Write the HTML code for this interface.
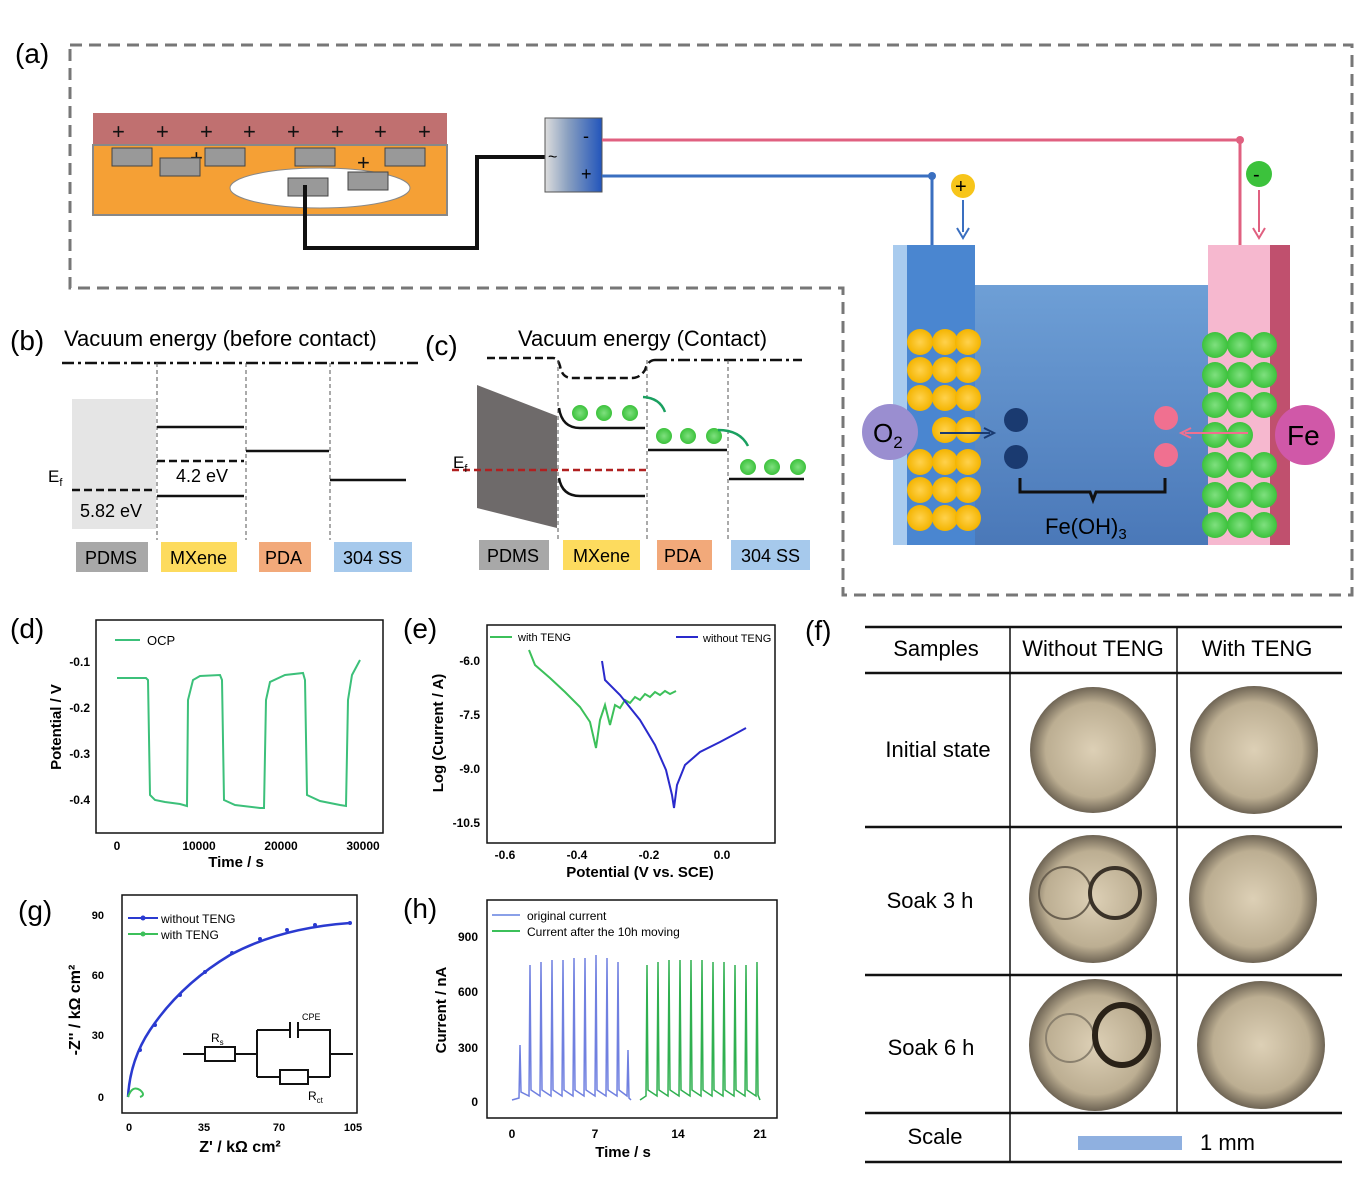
<!DOCTYPE html>
<html><head><meta charset="utf-8"><style>body{margin:0;background:#fff}svg{display:block}text{font-family:"Liberation Sans",sans-serif}</style></head><body>
<svg width="1367" height="1182" viewBox="0 0 1367 1182" xmlns="http://www.w3.org/2000/svg">
<defs>
<linearGradient id="dev" x1="0" x2="1"><stop offset="0" stop-color="#ddd"/><stop offset="0.4" stop-color="#8aa0c0"/><stop offset="1" stop-color="#2255bb"/></linearGradient>
<linearGradient id="wat" x1="0" y1="0" x2="0" y2="1"><stop offset="0" stop-color="#6e9fd6"/><stop offset="1" stop-color="#4a78b8"/></linearGradient>
<radialGradient id="gc"><stop offset="0" stop-color="#7fe07f"/><stop offset="1" stop-color="#3cc23c"/></radialGradient>
<radialGradient id="yc"><stop offset="0" stop-color="#ffd24d"/><stop offset="1" stop-color="#f4b400"/></radialGradient>
<radialGradient id="disk"><stop offset="0" stop-color="#ddd0b6"/><stop offset="0.75" stop-color="#bcae92"/><stop offset="1" stop-color="#6e6454"/></radialGradient>
</defs>
<!-- (a) -->
<text x="15" y="63" font-size="28">(a)</text>
<path d="M70,45 H1352 V595 H843 V288 H70 Z" fill="none" stroke="#777" stroke-width="3" stroke-dasharray="12,7"/>
<rect x="93" y="113" width="354" height="32" fill="#c07070"/>
<rect x="93" y="145" width="354" height="70" fill="#f5a035" stroke="#888" stroke-width="2"/>
<g font-size="22" fill="#111"><text x="112" y="139">+</text><text x="156" y="139">+</text><text x="200" y="139">+</text><text x="243" y="139">+</text><text x="287" y="139">+</text><text x="331" y="139">+</text><text x="374" y="139">+</text><text x="418" y="139">+</text><text x="190" y="165">+</text><text x="357" y="170">+</text></g>
<ellipse cx="320" cy="188" rx="90" ry="20" fill="#fff" stroke="#888"/>
<g fill="#999" stroke="#444"><rect x="112" y="148" width="40" height="18"/><rect x="160" y="158" width="40" height="18"/><rect x="205" y="148" width="40" height="18"/><rect x="295" y="148" width="40" height="18"/><rect x="385" y="148" width="40" height="18"/><rect x="288" y="178" width="40" height="18"/><rect x="348" y="172" width="40" height="18"/></g>
<path d="M305,185 V248 H477 V157 H545" fill="none" stroke="#111" stroke-width="4"/>
<rect x="545" y="118" width="57" height="74" fill="url(#dev)" stroke="#555"/>
<text x="548" y="162" font-size="16">~</text><text x="583" y="142" font-size="18">-</text><text x="581" y="180" font-size="18">+</text>
<path d="M602,140 H1240 V248" fill="none" stroke="#e06080" stroke-width="3"/>
<path d="M602,176 H932 V250" fill="none" stroke="#3a6fc0" stroke-width="3"/>
<circle cx="1240" cy="140" r="4" fill="#e06080"/><circle cx="932" cy="176" r="4" fill="#3a6fc0"/>
<circle cx="963" cy="186" r="12" fill="#f7c51a"/><text x="955" y="193" font-size="20">+</text>
<path d="M963,200 V232" stroke="#3a6fc0" stroke-width="2"/><path d="M957,228 L963,238 L969,228" fill="none" stroke="#3a6fc0" stroke-width="2"/>
<circle cx="1259" cy="174" r="13" fill="#3cc23c"/><text x="1253" y="181" font-size="20">-</text>
<path d="M1259,190 V232" stroke="#e06080" stroke-width="2"/><path d="M1253,228 L1259,238 L1265,228" fill="none" stroke="#e06080" stroke-width="2"/>
<rect x="975" y="285" width="235" height="260" fill="url(#wat)"/>
<rect x="893" y="245" width="82" height="300" fill="#4a86d0"/><rect x="893" y="245" width="14" height="300" fill="#a9cbee"/>
<rect x="1208" y="245" width="82" height="300" fill="#f6b8cf"/><rect x="1270" y="245" width="20" height="300" fill="#c0506e"/>
<g fill="url(#yc)">
<circle cx="920" cy="342" r="13"/><circle cx="945" cy="342" r="13"/><circle cx="968" cy="342" r="13"/>
<circle cx="920" cy="370" r="13"/><circle cx="945" cy="370" r="13"/><circle cx="968" cy="370" r="13"/>
<circle cx="920" cy="398" r="13"/><circle cx="945" cy="398" r="13"/><circle cx="968" cy="398" r="13"/>
<circle cx="920" cy="462" r="13"/><circle cx="945" cy="462" r="13"/><circle cx="968" cy="462" r="13"/>
<circle cx="920" cy="490" r="13"/><circle cx="945" cy="490" r="13"/><circle cx="968" cy="490" r="13"/>
<circle cx="920" cy="518" r="13"/><circle cx="945" cy="518" r="13"/><circle cx="968" cy="518" r="13"/>
<circle cx="945" cy="430" r="13"/><circle cx="968" cy="430" r="13"/></g>
<g fill="url(#gc)">
<circle cx="1215" cy="345" r="13"/><circle cx="1240" cy="345" r="13"/><circle cx="1264" cy="345" r="13"/>
<circle cx="1215" cy="375" r="13"/><circle cx="1240" cy="375" r="13"/><circle cx="1264" cy="375" r="13"/>
<circle cx="1215" cy="405" r="13"/><circle cx="1240" cy="405" r="13"/><circle cx="1264" cy="405" r="13"/>
<circle cx="1215" cy="465" r="13"/><circle cx="1240" cy="465" r="13"/><circle cx="1264" cy="465" r="13"/>
<circle cx="1215" cy="495" r="13"/><circle cx="1240" cy="495" r="13"/><circle cx="1264" cy="495" r="13"/>
<circle cx="1215" cy="525" r="13"/><circle cx="1240" cy="525" r="13"/><circle cx="1264" cy="525" r="13"/>
<circle cx="1215" cy="435" r="13"/><circle cx="1240" cy="435" r="13"/></g>
<circle cx="890" cy="432" r="28" fill="#9a8ed0"/><text x="873" y="442" font-size="26">O<tspan font-size="17" dy="6">2</tspan></text>
<circle cx="1305" cy="435" r="30" fill="#d058a8"/><text x="1287" y="445" font-size="28">Fe</text>
<path d="M940,433 H990" stroke="#1a3a70" stroke-width="2"/><path d="M984,428 L994,433 L984,438" fill="none" stroke="#1a3a70" stroke-width="2"/>
<circle cx="1016" cy="420" r="12" fill="#1a3a70"/><circle cx="1016" cy="457" r="12" fill="#1a3a70"/>
<circle cx="1166" cy="418" r="12" fill="#f07090"/><circle cx="1166" cy="455" r="12" fill="#f07090"/>
<path d="M1248,433 H1185" stroke="#f07090" stroke-width="2"/><path d="M1191,428 L1181,433 L1191,438" fill="none" stroke="#f07090" stroke-width="2"/>
<path d="M1020,478 V492 H1090 L1093,500 L1096,492 H1165 V478" fill="none" stroke="#111" stroke-width="3"/>
<text x="1045" y="534" font-size="22">Fe(OH)<tspan font-size="15" dy="5">3</tspan></text>
<!-- (b) -->
<text x="10" y="350" font-size="28">(b)</text>
<text x="64" y="346" font-size="22">Vacuum energy (before contact)</text>
<path d="M62,363 H418" stroke="#111" stroke-width="2.5" stroke-dasharray="12,4,3,4"/>
<g stroke="#555" stroke-dasharray="4,3"><path d="M157,363 V540"/><path d="M246,363 V540"/><path d="M330,363 V540"/></g>
<rect x="72" y="399" width="84" height="130" fill="#e5e5e5"/>
<path d="M72,490 H156" stroke="#111" stroke-width="2.5" stroke-dasharray="8,4"/>
<text x="48" y="482" font-size="17">E<tspan font-size="11" dy="4">f</tspan></text>
<text x="80" y="517" font-size="18">5.82 eV</text>
<path d="M157,427 H244" stroke="#111" stroke-width="2.5"/>
<path d="M157,461 H244" stroke="#111" stroke-width="2.5" stroke-dasharray="8,4"/>
<text x="176" y="482" font-size="18">4.2 eV</text>
<path d="M157,496 H244" stroke="#111" stroke-width="2.5"/>
<path d="M246,451 H329" stroke="#111" stroke-width="2.5"/>
<path d="M330,480 H406" stroke="#111" stroke-width="2.5"/>
<rect x="76" y="542" width="72" height="30" fill="#a8a8a8"/><text x="85" y="564" font-size="18">PDMS</text>
<rect x="161" y="542" width="76" height="30" fill="#fddb5e"/><text x="170" y="564" font-size="18">MXene</text>
<rect x="259" y="542" width="52" height="30" fill="#f2a97a"/><text x="265" y="564" font-size="18">PDA</text>
<rect x="334" y="542" width="78" height="30" fill="#a6c9ec"/><text x="343" y="564" font-size="18">304 SS</text>
<!-- (c) -->
<text x="425" y="355" font-size="28">(c)</text>
<text x="518" y="346" font-size="22">Vacuum energy (Contact)</text>
<path d="M487,358 H553 Q558,358 560,366 Q562,378 572,378 H632 Q640,378 645,370 Q648,360 655,360" fill="none" stroke="#111" stroke-width="2.5" stroke-dasharray="8,4"/>
<path d="M655,360 H802" stroke="#111" stroke-width="2.5" stroke-dasharray="12,4,3,4"/>
<g stroke="#555" stroke-dasharray="4,3"><path d="M558,360 V540"/><path d="M647,360 V540"/><path d="M728,360 V540"/></g>
<path d="M477,385 L557,416 V528 L477,508 Z" fill="#6e6a6a"/>
<path d="M452,470 H648" stroke="#b02020" stroke-width="2.5" stroke-dasharray="7,4"/>
<text x="453" y="468" font-size="17">E<tspan font-size="11" dy="4">f</tspan></text>
<path d="M559,408 Q562,428 580,428 H645" fill="none" stroke="#111" stroke-width="2.5"/>
<path d="M559,478 Q562,496 580,496 H645" fill="none" stroke="#111" stroke-width="2.5"/>
<path d="M648,450 H727" stroke="#111" stroke-width="2.5"/>
<path d="M729,479 H804" stroke="#111" stroke-width="2.5"/>
<g fill="url(#gc)"><circle cx="580" cy="413" r="8"/><circle cx="604" cy="413" r="8"/><circle cx="630" cy="413" r="8"/><circle cx="664" cy="436" r="8"/><circle cx="688" cy="436" r="8"/><circle cx="714" cy="436" r="8"/><circle cx="748" cy="467" r="8"/><circle cx="772" cy="467" r="8"/><circle cx="798" cy="467" r="8"/></g>
<path d="M643,397 Q660,398 665,412 M718,430 Q740,430 748,446" fill="none" stroke="#1aa060" stroke-width="2.5"/>
<rect x="479" y="540" width="70" height="30" fill="#a8a8a8"/><text x="487" y="562" font-size="18">PDMS</text>
<rect x="563" y="540" width="77" height="30" fill="#fddb5e"/><text x="573" y="562" font-size="18">MXene</text>
<rect x="657" y="540" width="55" height="30" fill="#f2a97a"/><text x="664" y="562" font-size="18">PDA</text>
<rect x="731" y="540" width="79" height="30" fill="#a6c9ec"/><text x="741" y="562" font-size="18">304 SS</text>
<!-- (d) -->
<text x="10" y="638" font-size="28">(d)</text>
<rect x="96" y="620" width="287" height="213" fill="none" stroke="#111" stroke-width="1.5"/>
<path d="M115,640 H140" stroke="#3cc07a" stroke-width="2"/><text x="147" y="645" font-size="13">OCP</text>
<g font-size="12" font-weight="bold" text-anchor="end"><text x="90" y="666">-0.1</text><text x="90" y="712">-0.2</text><text x="90" y="758">-0.3</text><text x="90" y="804">-0.4</text></g>
<g font-size="12" font-weight="bold" text-anchor="middle"><text x="117" y="850">0</text><text x="199" y="850">10000</text><text x="281" y="850">20000</text><text x="363" y="850">30000</text></g>
<text x="236" y="867" font-size="15" font-weight="bold" text-anchor="middle">Time / s</text>
<text transform="translate(61,727) rotate(-90)" font-size="15" font-weight="bold" text-anchor="middle">Potential / V</text>
<path d="M117,678 H146 L148,680 L150,795 L155,800 L165,802 L180,804 L187,806 L188,700 L193,680 L200,676 L220,675 L222,680 L224,800 L235,805 L260,808 L264,808 L266,700 L270,682 L285,675 L303,673 L305,680 L307,795 L320,801 L340,805 L346,806 L348,700 L352,675 L360,660" fill="none" stroke="#3cc07a" stroke-width="2"/>
<!-- (e) -->
<text x="403" y="638" font-size="28">(e)</text>
<rect x="487" y="625" width="288" height="218" fill="none" stroke="#111" stroke-width="1.5"/>
<path d="M490,637 H512" stroke="#3cc05a" stroke-width="2"/><text x="518" y="641" font-size="11">with TENG</text>
<path d="M676,637 H698" stroke="#2a2acc" stroke-width="2"/><text x="703" y="642" font-size="11">without TENG</text>
<g font-size="12" font-weight="bold" text-anchor="end"><text x="480" y="665">-6.0</text><text x="480" y="719">-7.5</text><text x="480" y="773">-9.0</text><text x="480" y="827">-10.5</text></g>
<g font-size="12" font-weight="bold" text-anchor="middle"><text x="505" y="859">-0.6</text><text x="577" y="859">-0.4</text><text x="649" y="859">-0.2</text><text x="722" y="859">0.0</text></g>
<text x="640" y="877" font-size="15" font-weight="bold" text-anchor="middle">Potential (V vs. SCE)</text>
<text transform="translate(443,733) rotate(-90)" font-size="15" font-weight="bold" text-anchor="middle">Log (Current / A)</text>
<path d="M529,650 L535,665 L550,678 L565,692 L580,707 L590,722 L596,748 L600,720 L605,705 L610,725 L615,705 L620,708 L625,700 L630,703 L635,697 L640,700 L645,694 L650,697 L655,692 L660,695 L665,691 L670,694 L676,691" fill="none" stroke="#3cc05a" stroke-width="2"/>
<path d="M602,661 L605,680 L620,695 L640,720 L655,745 L666,770 L672,795 L674,808 L677,785 L685,765 L700,752 L720,742 L735,734 L746,728" fill="none" stroke="#2a2acc" stroke-width="2"/>
<!-- (g) -->
<text x="18" y="920" font-size="28">(g)</text>
<rect x="122" y="895" width="235" height="218" fill="none" stroke="#111" stroke-width="1.5"/>
<path d="M128,918 H158" stroke="#2a3ad0" stroke-width="2"/><circle cx="143" cy="918" r="2.5" fill="#2a3ad0"/><text x="161" y="923" font-size="12">without TENG</text>
<path d="M128,934 H158" stroke="#3cc05a" stroke-width="2"/><circle cx="143" cy="934" r="2.5" fill="#3cc05a"/><text x="161" y="939" font-size="12">with TENG</text>
<g font-size="11" font-family="Liberation Serif" font-weight="bold" text-anchor="end"><text x="104" y="919">90</text><text x="104" y="979">60</text><text x="104" y="1039">30</text><text x="104" y="1101">0</text></g>
<g font-size="11" font-weight="bold" text-anchor="middle" font-family="Liberation Serif"><text x="129" y="1131">0</text><text x="204" y="1131">35</text><text x="279" y="1131">70</text><text x="353" y="1131">105</text></g>
<text x="240" y="1152" font-size="16" font-weight="bold" text-anchor="middle" font-family="Liberation Serif">Z' /  kΩ cm²</text>
<text transform="translate(80,1010) rotate(-90)" font-size="16" font-weight="bold" text-anchor="middle" font-family="Liberation Serif">-Z'' / kΩ cm²</text>
<path d="M128,1097 Q130,1060 150,1030 Q180,985 230,955 Q280,928 350,923" fill="none" stroke="#2a3ad0" stroke-width="2.5"/>
<g fill="#2a3ad0"><circle cx="140" cy="1050" r="2"/><circle cx="155" cy="1025" r="2"/><circle cx="180" cy="995" r="2"/><circle cx="205" cy="972" r="2"/><circle cx="232" cy="953" r="2"/><circle cx="260" cy="939" r="2"/><circle cx="287" cy="930" r="2"/><circle cx="315" cy="925" r="2"/><circle cx="350" cy="923" r="2"/></g>
<path d="M128,1097 Q132,1085 140,1090 Q146,1095 140,1097" fill="none" stroke="#3cc05a" stroke-width="2"/>
<path d="M183,1054 H205 M235,1054 H257 M257,1030 V1077 M257,1030 H290 M298,1030 H330 V1077 M257,1077 H280 M308,1077 H330 M330,1054 H353" fill="none" stroke="#111" stroke-width="2"/>
<rect x="205" y="1047" width="30" height="14" fill="#fff" stroke="#111" stroke-width="2"/>
<rect x="280" y="1070" width="28" height="14" fill="#fff" stroke="#111" stroke-width="2"/>
<path d="M290,1022 V1038 M298,1022 V1038" stroke="#111" stroke-width="2"/>
<text x="211" y="1042" font-size="12" font-family="Liberation Serif">R<tspan font-size="8" dy="3">s</tspan></text>
<text x="302" y="1020" font-size="9">CPE</text>
<text x="308" y="1100" font-size="12" font-family="Liberation Serif">R<tspan font-size="8" dy="3">ct</tspan></text>
<!-- (h) -->
<text x="403" y="918" font-size="28">(h)</text>
<rect x="487" y="900" width="290" height="218" fill="none" stroke="#111" stroke-width="1.5"/>
<path d="M492,915 H520" stroke="#8aa0e8" stroke-width="2"/><text x="527" y="920" font-size="12">original current</text>
<path d="M492,931 H520" stroke="#3cc05a" stroke-width="2"/><text x="527" y="936" font-size="12">Current after the 10h moving</text>
<g font-size="12" font-weight="bold" text-anchor="end"><text x="478" y="941">900</text><text x="478" y="996">600</text><text x="478" y="1052">300</text><text x="478" y="1106">0</text></g>
<g font-size="12" font-weight="bold" text-anchor="middle"><text x="512" y="1138">0</text><text x="595" y="1138">7</text><text x="678" y="1138">14</text><text x="760" y="1138">21</text></g>
<text x="623" y="1157" font-size="15" font-weight="bold" text-anchor="middle">Time / s</text>
<text transform="translate(446,1010) rotate(-90)" font-size="15" font-weight="bold" text-anchor="middle">Current / nA</text>
<path d="M512,1100 L519,1098 L520,1045 L521,1092 L529,1096 L530,965 L531,1090 L540,1096 L541,962 L542,1090 L551,1096 L552,960 L553,1090 L562,1096 L563,960 L564,1090 L573,1096 L574,958 L575,1090 L584,1096 L585,958 L586,1090 L595,1096 L596,955 L597,1090 L606,1096 L607,958 L608,1090 L617,1096 L618,962 L619,1090 L627,1096 L628,1050 L629,1098 L631,1100" fill="none" stroke="#7080e0" stroke-width="1.5"/>
<path d="M640,1100 L646,1096 L647,965 L648,1090 L657,1096 L658,962 L659,1090 L668,1096 L669,960 L670,1090 L679,1096 L680,960 L681,1090 L690,1096 L691,960 L692,1090 L701,1096 L702,960 L703,1090 L712,1096 L713,962 L714,1090 L723,1096 L724,962 L725,1090 L734,1096 L735,965 L736,1090 L745,1096 L746,965 L747,1090 L756,1096 L757,962 L758,1095 L760,1100" fill="none" stroke="#30b050" stroke-width="1.5"/>
<!-- (f) -->
<text x="805" y="640" font-size="28">(f)</text>
<g stroke="#111" stroke-width="2.5"><path d="M865,627 H1342"/><path d="M865,673 H1342"/><path d="M865,827 H1342"/><path d="M865,975 H1342"/><path d="M865,1113 H1342"/><path d="M865,1162 H1342"/></g>
<g stroke="#111" stroke-width="1.5"><path d="M1010,627 V1162"/><path d="M1177,627 V1113"/></g>
<g font-size="22" text-anchor="middle" font-family="DejaVu Sans"><text x="936" y="656">Samples</text><text x="1093" y="656">Without TENG</text><text x="1257" y="656">With TENG</text><text x="938" y="757">Initial state</text><text x="930" y="908">Soak 3 h</text><text x="931" y="1055">Soak 6 h</text><text x="935" y="1144">Scale</text></g>
<g fill="url(#disk)"><circle cx="1093" cy="750" r="63"/><circle cx="1254" cy="750" r="64"/><circle cx="1093" cy="899" r="64"/><circle cx="1253" cy="899" r="64"/><circle cx="1095" cy="1045" r="66"/><circle cx="1261" cy="1045" r="64"/></g>
<circle cx="1065" cy="893" r="26" fill="none" stroke="#6a6050" stroke-width="2"/>
<circle cx="1115" cy="893" r="25" fill="none" stroke="#3a3228" stroke-width="4"/>
<circle cx="1070" cy="1038" r="24" fill="none" stroke="#8a806e" stroke-width="2"/>
<ellipse cx="1122" cy="1035" rx="27" ry="30" fill="none" stroke="#2a2218" stroke-width="6"/>
<rect x="1078" y="1136" width="104" height="14" fill="#8fb0e0"/>
<text x="1200" y="1150" font-size="22" font-family="DejaVu Sans">1 mm</text>
</svg>
</body></html>
